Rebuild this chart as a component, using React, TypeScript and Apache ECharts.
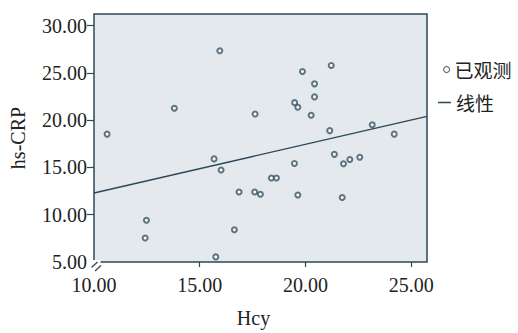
import React, { useEffect, useRef } from "react";
import * as echarts from "echarts";

const hcy = [
  15.95, 13.8, 17.62, 10.62, 21.22, 19.86, 20.43, 20.43, 19.49, 19.64, 20.27,
  23.16, 21.15, 24.2, 15.68, 16.01, 16.86, 17.6, 17.87, 12.48, 12.42, 16.64,
  15.76, 21.37, 21.8, 22.1, 22.57, 19.48, 18.39, 18.63, 19.64, 21.74,
];
const hsCrp = [
  27.35, 21.27, 20.65, 18.53, 25.8, 25.15, 23.85, 22.47, 21.86, 21.37, 20.52,
  19.52, 18.9, 18.53, 15.91, 14.74, 12.4, 12.4, 12.16, 9.41, 7.53, 8.42, 5.54,
  16.39, 15.39, 15.85, 16.08, 15.43, 13.89, 13.89, 12.09, 11.82,
];
const fitX = [10, 25.75];
const fitY = [12.3, 20.41];
const xTicks = [10, 15, 20, 25];
const yTicks = [5, 10, 15, 20, 25, 30];
const xTickMarks = [15, 20, 25];
const yTickMarks = [10, 15, 20, 25, 30];
const legendNames = ["已观测", "线性"];

const axisColor = "#2e4858";
const pointColor = "#3a5464";
const serif = "'Liberation Serif', 'DejaVu Serif', serif";
const cjk = "'Noto Sans CJK SC', sans-serif";

export default function App() {
  const ref = useRef<HTMLDivElement>(null);
  useEffect(() => {
    if (!ref.current) return;
    const chart = echarts.init(ref.current, undefined, { renderer: "svg" });
    const legendText = { fontFamily: cjk, fontSize: 19, color: "#222" };
    chart.setOption({
      animation: false,
      backgroundColor: "#ffffff",
      grid: {
        left: 93,
        top: 14,
        width: 334,
        height: 254,
        show: true,
        backgroundColor: "#e3e9ed",
        borderColor: axisColor,
        borderWidth: 1.5,
      },
      legend: [
        {
          left: 438,
          top: 55,
          itemWidth: 6,
          itemHeight: 6,
          textStyle: legendText,
          data: [
            {
              name: legendNames[0],
              icon: "circle",
              itemStyle: { color: "#ffffff", borderColor: pointColor, borderWidth: 1.2 },
            },
          ],
        },
        {
          left: 433,
          top: 88,
          itemWidth: 13,
          itemHeight: 1.5,
          textStyle: legendText,
          data: [
            {
              name: legendNames[1],
              icon: "rect",
              itemStyle: { color: "#2b4656", borderWidth: 0 },
            },
          ],
        },
      ],
      xAxis: {
        type: "value",
        min: 10,
        max: 25.75,
        name: "Hcy",
        nameLocation: "middle",
        nameGap: 46,
        nameTextStyle: { fontFamily: serif, fontSize: 20, color: "#222", padding: [0, 14, 0, 0] },
        splitLine: { show: false },
        axisLine: { show: false },
        axisTick: {
          show: true,
          customValues: xTickMarks,
          length: 5,
          lineStyle: { color: axisColor, width: 1.2 },
        },
        axisLabel: {
          customValues: xTicks,
          margin: 13,
          fontFamily: serif,
          fontSize: 20,
          color: "#222",
          formatter: (v: number) => v.toFixed(2),
        },
      },
      yAxis: {
        type: "value",
        min: 5,
        max: 31.24,
        name: "hs-CRP",
        nameLocation: "middle",
        nameGap: 66,
        nameRotate: 90,
        nameTextStyle: { fontFamily: serif, fontSize: 20, color: "#222" },
        splitLine: { show: false },
        axisLine: { show: false },
        axisTick: {
          show: true,
          customValues: yTickMarks,
          length: 7,
          lineStyle: { color: axisColor, width: 1.2 },
        },
        axisLabel: {
          customValues: yTicks,
          margin: 7,
          fontFamily: serif,
          fontSize: 20,
          color: "#222",
          formatter: (v: number) => v.toFixed(2),
        },
      },
      series: [
        {
          name: legendNames[0],
          type: "scatter",
          symbol: "emptyCircle",
          symbolSize: 5,
          itemStyle: { color: pointColor, borderColor: pointColor, borderWidth: 1.2 },
          data: hcy.map((x, i) => [x, hsCrp[i]]),
          z: 3,
        },
        {
          name: legendNames[1],
          type: "line",
          symbol: "none",
          lineStyle: { color: "#2b4656", width: 1.3 },
          itemStyle: { color: "#2b4656" },
          data: fitX.map((x, i) => [x, fitY[i]]),
          z: 2,
        },
      ],
      graphic: [
        {
          type: "rect",
          shape: { x: 88, y: 260, width: 12.5, height: 12 },
          style: { fill: "#ffffff" },
          z: 100,
        },
        {
          type: "line",
          shape: { x1: 91.5, y1: 267.5, x2: 97.5, y2: 262 },
          style: { stroke: axisColor, lineWidth: 1.3 },
          z: 101,
        },
        {
          type: "line",
          shape: { x1: 95, y1: 271, x2: 101, y2: 265.5 },
          style: { stroke: axisColor, lineWidth: 1.3 },
          z: 101,
        },
      ],
    });
    return () => chart.dispose();
  }, []);
  return (
    <div
      ref={ref}
      style={{ position: "fixed", left: 0, top: 0, width: 518, height: 333 }}
    />
  );
}
